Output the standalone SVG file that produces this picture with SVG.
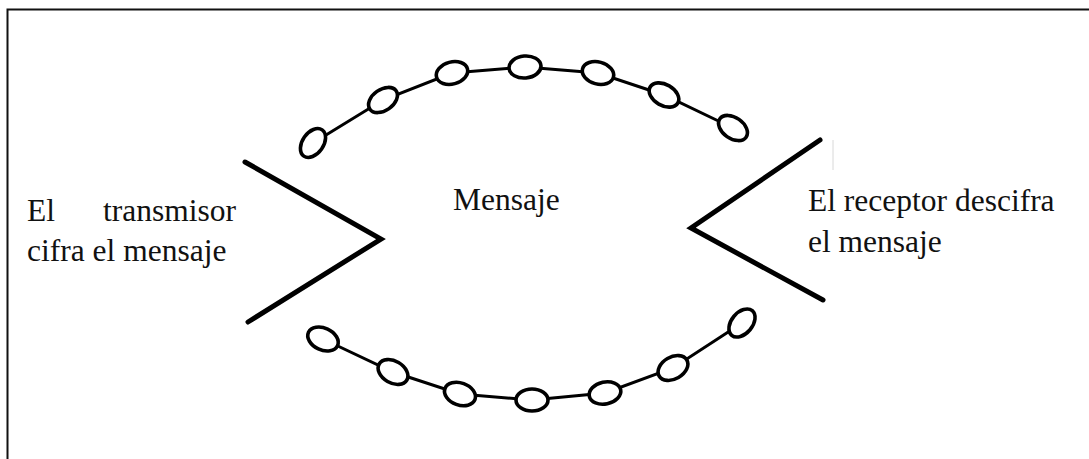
<svg xmlns="http://www.w3.org/2000/svg" width="1089" height="459" viewBox="0 0 1089 459">
  <style>
    .txt { font-family: "Liberation Serif", "Times New Roman", serif; font-size: 31.5px; fill: #111; }
    .chev { fill: none; stroke: #000; stroke-width: 5; stroke-linecap: round; stroke-linejoin: miter; }
    .link { fill: none; stroke: #000; stroke-width: 3; }
    .bead { fill: #fff; stroke: #000; stroke-width: 3.6; }
    .frame { fill: none; stroke: #111; stroke-width: 2; }
  </style>
  <rect width="1089" height="459" fill="#fff"/>
  <g id="frame">
    <polyline class="frame" points="7.5,459 7.5,9.5 1089,9.5"/>
    <line x1="833" y1="140" x2="833" y2="170" stroke="#d8d8d8" stroke-width="1"/>
  </g>

  <g id="connectors">
    <polyline class="link" points="313,143 383,100 452,73 525,67 598,73 664,95 733,128"/>
    <polyline class="link" points="323,339 393,372 460,394 532,400 605,393 673,368 742,323"/>
  </g>

  <g id="transmisor">
    <polyline class="chev" points="245,162 381,239 248,322"/>
    <text class="txt" x="27" y="221">El</text>
    <text class="txt" x="236" y="221" text-anchor="end">transmisor</text>
    <text class="txt" x="27" y="261">cifra el mensaje</text>
  </g>

  <g id="receptor">
    <polyline class="chev" points="820,140 691,228 823,300"/>
    <text class="txt" x="808" y="211">El receptor descifra</text>
    <text class="txt" x="808" y="252">el mensaje</text>
  </g>

  <g id="mensaje">
    <text class="txt" x="453" y="210">Mensaje</text>
  </g>

  <g id="cadena-superior">
    <ellipse class="bead" cx="313" cy="143" rx="16" ry="10.5" transform="rotate(-55 313 143)"/>
    <ellipse class="bead" cx="383" cy="100" rx="16" ry="10.5" transform="rotate(-35 383 100)"/>
    <ellipse class="bead" cx="452" cy="73" rx="16" ry="11" transform="rotate(-15 452 73)"/>
    <ellipse class="bead" cx="525" cy="67" rx="16" ry="11" transform="rotate(-5 525 67)"/>
    <ellipse class="bead" cx="598" cy="73" rx="16" ry="11" transform="rotate(15 598 73)"/>
    <ellipse class="bead" cx="664" cy="95" rx="16" ry="10.5" transform="rotate(30 664 95)"/>
    <ellipse class="bead" cx="733" cy="128" rx="16" ry="10.5" transform="rotate(35 733 128)"/>
  </g>

  <g id="cadena-inferior">
    <ellipse class="bead" cx="323" cy="339" rx="16" ry="11" transform="rotate(25 323 339)"/>
    <ellipse class="bead" cx="393" cy="372" rx="16" ry="11" transform="rotate(30 393 372)"/>
    <ellipse class="bead" cx="460" cy="394" rx="16" ry="11" transform="rotate(20 460 394)"/>
    <ellipse class="bead" cx="532" cy="400" rx="16" ry="11" transform="rotate(0 532 400)"/>
    <ellipse class="bead" cx="605" cy="393" rx="16" ry="11" transform="rotate(-12 605 393)"/>
    <ellipse class="bead" cx="673" cy="368" rx="16" ry="11" transform="rotate(-30 673 368)"/>
    <ellipse class="bead" cx="742" cy="323" rx="16" ry="10.5" transform="rotate(-50 742 323)"/>
  </g>
</svg>
